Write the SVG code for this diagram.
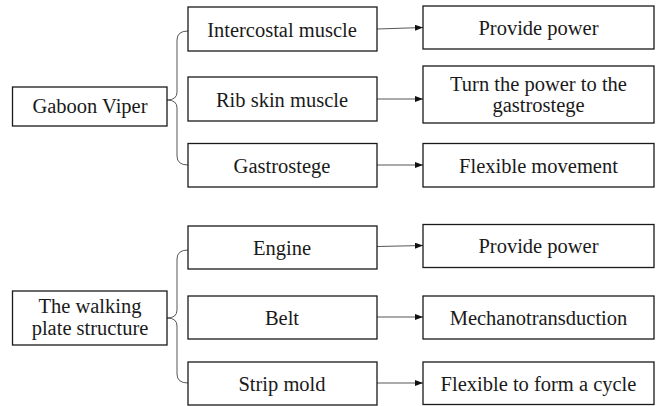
<svg xmlns="http://www.w3.org/2000/svg" width="658" height="406" viewBox="0 0 658 406">
<defs>
<style>
.box{fill:#fff;stroke:#1a1a1a;stroke-width:1.3}
.t{font-family:"Liberation Serif","Times New Roman",serif;font-size:20.5px;fill:#1a1a1a;text-anchor:middle}
.c{fill:none;stroke:#444;stroke-width:0.9}
</style>
<marker id="ah" viewBox="0 0 8 6" refX="8" refY="3" markerWidth="8" markerHeight="6" markerUnits="userSpaceOnUse" orient="auto">
<path d="M0,0 L8,3 L0,6 z" fill="#111"/>
</marker>
</defs>
<rect width="658" height="406" fill="#fff"/>
<g id="connectors">
<path class="c" d="M188,31 Q177,31 177,40 L177,92 Q177,100 167,100 Q177,100 177,108 L177,156 Q177,165 188,165"/>
<path class="c" d="M188,250 Q177,250 177,259 L177,310 Q177,318 167,318 Q177,318 177,326 L177,374 Q177,383 188,383"/>
<line class="c" x1="377" y1="29" x2="423" y2="27.5" marker-end="url(#ah)"/>
<line class="c" x1="377" y1="99" x2="423" y2="99" marker-end="url(#ah)"/>
<line class="c" x1="377" y1="165" x2="423" y2="165" marker-end="url(#ah)"/>
<line class="c" x1="377" y1="246.5" x2="423" y2="245.5" marker-end="url(#ah)"/>
<line class="c" x1="377" y1="317" x2="423" y2="317" marker-end="url(#ah)"/>
<line class="c" x1="377" y1="383" x2="423" y2="383" marker-end="url(#ah)"/>
</g>
<g id="gaboon"><rect class="box" x="12.5" y="87" width="154.5" height="39"/><text class="t" x="90" y="113">Gaboon Viper</text></g>
<g id="intercostal"><rect class="box" x="188" y="7" width="189" height="44"/><text class="t" x="282" y="36.5">Intercostal muscle</text></g>
<g id="ribskin"><rect class="box" x="188" y="77" width="189" height="44"/><text class="t" x="282" y="106.5">Rib skin muscle</text></g>
<g id="gastrostege"><rect class="box" x="188" y="143.5" width="189" height="43.5"/><text class="t" x="282" y="172.5">Gastrostege</text></g>
<g id="power1"><rect class="box" x="423" y="6" width="231" height="43"/><text class="t" x="538.5" y="35">Provide power</text></g>
<g id="turn"><rect class="box" x="423" y="66" width="231" height="57"/><text class="t" x="538.5" y="90.5">Turn the power to the</text><text class="t" x="538.5" y="112">gastrostege</text></g>
<g id="flexible1"><rect class="box" x="423" y="143.5" width="231" height="43.5"/><text class="t" x="538.5" y="172.5">Flexible movement</text></g>
<g id="walking"><rect class="box" x="12.5" y="291" width="154.5" height="54"/><text class="t" x="90" y="312.5">The walking</text><text class="t" x="90" y="335">plate structure</text></g>
<g id="engine"><rect class="box" x="188" y="226" width="189" height="43"/><text class="t" x="282" y="254.5">Engine</text></g>
<g id="belt"><rect class="box" x="188" y="296" width="189" height="43"/><text class="t" x="282" y="324.5">Belt</text></g>
<g id="strip"><rect class="box" x="188" y="362" width="189" height="43"/><text class="t" x="282" y="391">Strip mold</text></g>
<g id="power2"><rect class="box" x="423" y="224.5" width="231" height="43"/><text class="t" x="538.5" y="253">Provide power</text></g>
<g id="mechano"><rect class="box" x="423" y="296" width="231" height="43"/><text class="t" x="538.5" y="324.5">Mechanotransduction</text></g>
<g id="flexible2"><rect class="box" x="423" y="362" width="231" height="42.5"/><text class="t" x="538.5" y="391">Flexible to form a cycle</text></g>
</svg>
